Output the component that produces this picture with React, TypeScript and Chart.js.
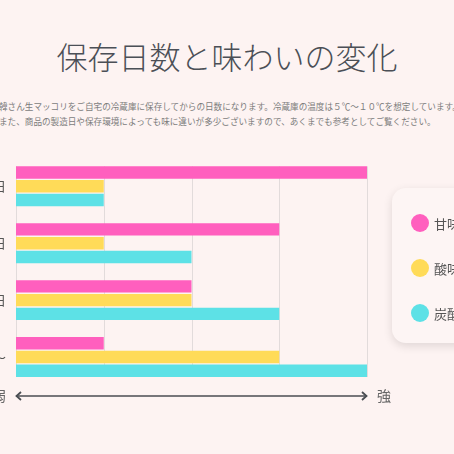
import React, { useEffect, useRef } from "react";
import { Chart, registerables } from "chart.js";

Chart.register(...registerables);

const title = "保存日数と味わいの変化";
const noteLines = [
  "韓さん生マッコリをご自宅の冷蔵庫に保存してからの日数になります。冷蔵庫の温度は５℃〜１０℃を想定しています。",
  "また、商品の製造日や保存環境によっても味に違いが多少ございますので、あくまでも参考としてご覧ください。",
];
const categories = ["1〜3日", "4〜7日", "8〜14日", "15日〜"];
const seriesNames = ["甘味", "酸味", "炭酸"];
const sweetness = [4, 3, 2, 1];
const acidity = [1, 1, 2, 3];
const carbonation = [1, 2, 3, 4];
const seriesColors = ["#ff5fbe", "#ffdb58", "#5de1e6"];
const axisMax = 4;
const axisEnds = ["弱", "強"];

const FONT = "'Noto Sans CJK JP', 'Noto Sans', sans-serif";
const BG = "#fdf3f2";

const gridAndArrow = {
  id: "gridAndArrow",
  beforeDatasetsDraw(chart: any) {
    const { ctx } = chart;
    const xs = chart.scales.x;
    const firstMeta = chart.getDatasetMeta(0);
    const lastMeta = chart.getDatasetMeta(chart.data.datasets.length - 1);
    const first: any = firstMeta.data[0];
    const last: any = lastMeta.data[lastMeta.data.length - 1];
    const top = first.y - first.height / 2;
    const bottom = last.y + last.height / 2;
    ctx.save();
    ctx.strokeStyle = "#e2dbdb";
    ctx.lineWidth = 1;
    for (let v = 0; v <= axisMax; v++) {
      const px = Math.round(xs.getPixelForValue(v)) + 0.5;
      ctx.beginPath();
      ctx.moveTo(px, top);
      ctx.lineTo(px, bottom);
      ctx.stroke();
    }
    ctx.restore();
  },
  afterDraw(chart: any) {
    const { ctx, chartArea } = chart;
    const xs = chart.scales.x;
    const x0 = xs.getPixelForValue(0);
    const x1 = xs.getPixelForValue(axisMax);
    const y = chartArea.bottom + 10.5;
    ctx.save();
    ctx.strokeStyle = "#4a4d52";
    ctx.lineWidth = 1.5;
    ctx.beginPath();
    ctx.moveTo(x0, y);
    ctx.lineTo(x1, y);
    ctx.stroke();
    ctx.lineWidth = 1.8;
    ctx.beginPath();
    ctx.moveTo(x0 + 5, y - 4);
    ctx.lineTo(x0 + 0.5, y);
    ctx.lineTo(x0 + 5, y + 4);
    ctx.stroke();
    ctx.beginPath();
    ctx.moveTo(x1 - 5, y - 4);
    ctx.lineTo(x1 - 0.5, y);
    ctx.lineTo(x1 - 5, y + 4);
    ctx.stroke();
    ctx.fillStyle = "#666666";
    ctx.font = `14px ${FONT}`;
    ctx.textBaseline = "middle";
    ctx.textAlign = "right";
    ctx.fillText(axisEnds[0], x0 - 10, y);
    ctx.textAlign = "left";
    ctx.fillText(axisEnds[1], x1 + 10, y);
    ctx.restore();
  },
};

function BarChart() {
  const ref = useRef<HTMLCanvasElement | null>(null);
  useEffect(() => {
    if (!ref.current) return;
    const values = [sweetness, acidity, carbonation];
    const chart = new Chart(ref.current, {
      type: "bar",
      data: {
        labels: categories,
        datasets: seriesNames.map((name, i) => ({
          label: name,
          data: values[i],
          backgroundColor: seriesColors[i],
          borderWidth: 0,
          barPercentage: 0.9,
          categoryPercentage: 0.725,
        })),
      },
      options: {
        indexAxis: "y",
        responsive: false,
        animation: false,
        layout: { padding: { left: 0, right: 87, top: 10, bottom: 34.5 } },
        plugins: { legend: { display: false }, tooltip: { enabled: false } },
        scales: {
          x: { type: "linear", min: 0, max: axisMax, display: false },
          y: {
            type: "category",
            position: "left",
            grid: { display: false, drawTicks: false },
            border: { display: false },
            ticks: { color: "#555555", font: { family: FONT, size: 13 }, padding: 10 },
            afterFit: (s: any) => {
              s.width = 76;
            },
          },
        },
      },
      plugins: [gridAndArrow],
    } as any);
    return () => chart.destroy();
  }, []);
  return (
    <canvas
      ref={ref}
      width={514}
      height={280}
      style={{ position: "absolute", left: -60, top: 140, width: 514, height: 280 }}
    />
  );
}

export default function App() {
  return (
    <div
      style={{
        position: "fixed",
        left: 0,
        top: 0,
        width: 454,
        height: 454,
        overflow: "hidden",
        background: BG,
        fontFamily: FONT,
      }}
    >
      <div
        style={{
          position: "absolute",
          left: 0,
          top: 40,
          width: 454,
          textAlign: "center",
          fontSize: 31,
          lineHeight: "31px",
          fontWeight: 300,
          color: "#4b4f56",
          whiteSpace: "nowrap",
        }}
      >
        {title}
      </div>
      <div
        style={{
          position: "absolute",
          left: -1,
          top: 98.5,
          fontSize: 8.6,
          lineHeight: "15px",
          color: "#7c7c7c",
          whiteSpace: "nowrap",
        }}
      >
        {noteLines.map((l, i) => (
          <div key={i}>{l}</div>
        ))}
      </div>
      <BarChart />
      <div
        style={{
          position: "absolute",
          left: 392,
          top: 188,
          width: 130,
          height: 155,
          borderRadius: 14,
          background: "#fdf5f4",
          boxShadow: "0 3px 10px rgba(0,0,0,0.12)",
        }}
      >
        {seriesNames.map((name, i) => (
          <div
            key={name}
            style={{
              position: "absolute",
              left: 19,
              top: 12.5 + i * 45,
              height: 45,
              display: "flex",
              alignItems: "center",
              whiteSpace: "nowrap",
            }}
          >
            <span
              style={{
                display: "inline-block",
                width: 18,
                height: 18,
                borderRadius: "50%",
                background: seriesColors[i],
              }}
            />
            <span style={{ marginLeft: 5, fontSize: 13, color: "#555555" }}>{name}</span>
          </div>
        ))}
      </div>
    </div>
  );
}
